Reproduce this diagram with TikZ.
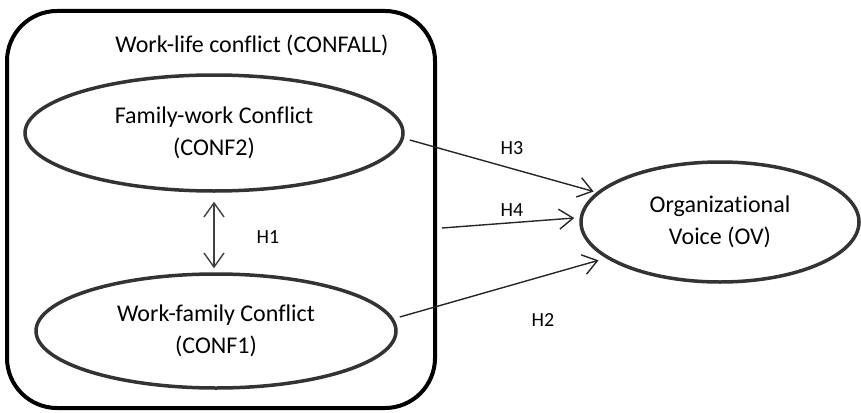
\documentclass[tikz,border=0pt]{standalone}
\usepackage{fontspec}
\setmainfont{Carlito}[Ligatures={NoCommon}]
\usetikzlibrary{shapes.geometric,arrows.meta}
\begin{document}
\begin{tikzpicture}[x=1pt,y=-1pt,
  construct/.style={ellipse,draw=black!80,line width=3.5pt,inner sep=0pt,align=center,
    font=\fontsize{24}{32}\selectfont},
  outerbox/.style={draw=black,line width=4pt,rounded corners=50pt,inner sep=0pt},
  arr/.style={line width=1.4pt,draw=black!85,-{Straight Barb[length=14pt,width=20pt]}},
  dbl/.style={line width=1.4pt,draw=black!75,{Straight Barb[length=14pt,width=20pt]}-{Straight Barb[length=14pt,width=20pt]}},
  hlabel/.style={font=\fontsize{20}{24}\selectfont,inner sep=0pt}]
\useasboundingbox (0,0) rectangle (861,412);
\node[outerbox,minimum width=428pt,minimum height=397pt] (box) at (221,209.5) {};
\node[font=\fontsize{24}{28}\selectfont] (title) at (252,45) {Work-life conflict (CONFALL)};
\node[construct,minimum width=378pt,minimum height=116pt] (c2) at (214,133) {Family-work Conflict\\(CONF2)};
\node[construct,minimum width=360pt,minimum height=114pt] (c1) at (216,331) {Work-family Conflict\\(CONF1)};
\node[construct,minimum width=278pt,minimum height=120pt] (ov) at (720,222) {Organizational\\Voice (OV)};
\coordinate (h1top) at ([yshift=-9pt]c2.south);
\draw[dbl,shorten >=4pt] (h1top) -- (h1top |- c1.north);
\node[hlabel] (h1) at (268,237) {H1};
\draw[arr] ([shift={(5,7)}]c2.east) -- ([shift={(-4,0)}]ov.166);
\node[hlabel] (h3) at (512,148) {H3};
\coordinate (h4s) at (442,228);
\draw[arr] (h4s) -- ([shift={(-5,-4)}]ov.west);
\node[hlabel] (h4) at (512,210) {H4};
\draw[arr] ([shift={(2,-14)}]c1.east) -- ([shift={(-6,3)}]ov.197);
\node[hlabel] (h2) at (543,320) {H2};
\end{tikzpicture}
\end{document}
